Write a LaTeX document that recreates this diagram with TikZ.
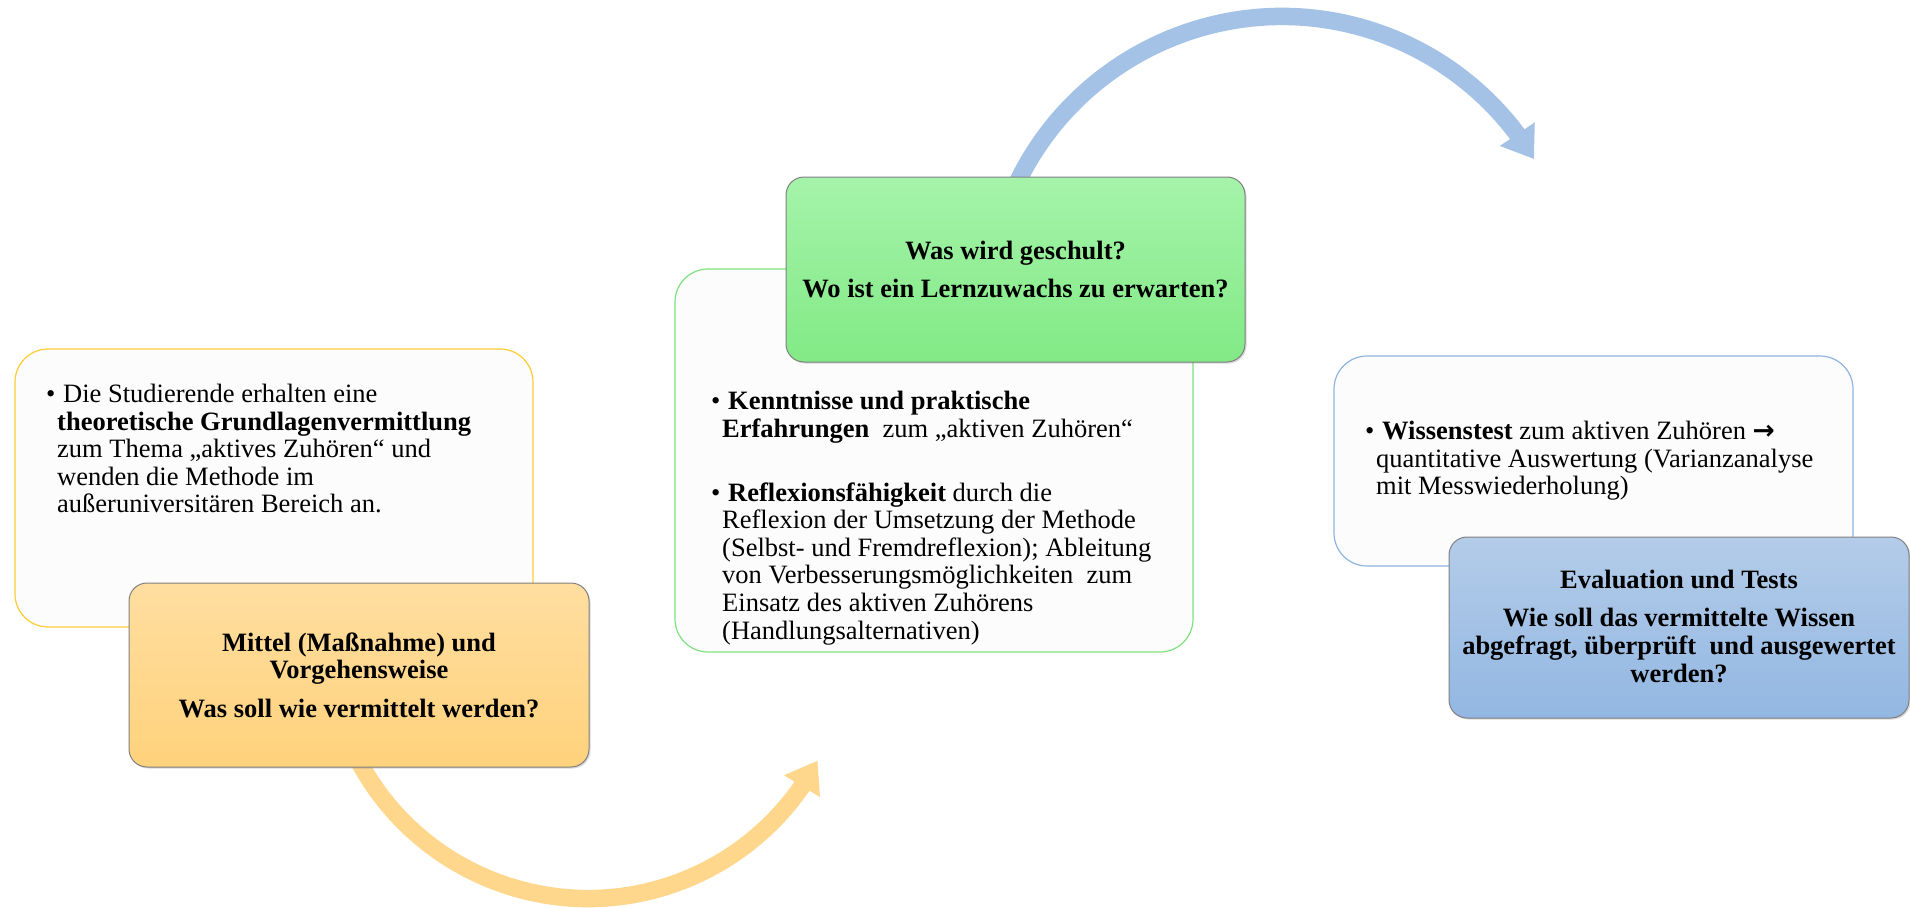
\documentclass[tikz,border=0pt]{standalone}
\usepackage{fontspec}
\setmainfont{Liberation Serif}
\newfontfamily\arrowfont{DejaVu Sans}
\usetikzlibrary{arrows.meta,bending,shadows}

\definecolor{infofill}{RGB}{252,252,252}
\definecolor{mittelline}{RGB}{255,204,51}
\definecolor{schulline}{RGB}{125,226,125}
\definecolor{evalline}{RGB}{141,180,226}
\definecolor{mitteltop}{RGB}{255,222,160}
\definecolor{mittelbot}{RGB}{255,210,124}
\definecolor{schultop}{RGB}{165,243,170}
\definecolor{schulbot}{RGB}{130,234,133}
\definecolor{evaltop}{RGB}{180,204,233}
\definecolor{evalbot}{RGB}{146,183,226}
\definecolor{ringorange}{RGB}{255,215,140}
\definecolor{ringblue}{RGB}{163,194,230}
\newcommand{\bul}{\makebox[17pt][l]{\textbullet}}
\newcommand{\ind}{\hspace*{11pt}}

\begin{document}
\begin{tikzpicture}[x=1pt,y=-1pt,
  infobox/.style={draw, line width=1.2pt, fill=infofill, rounded corners=33pt, inner sep=0pt},
  headbox/.style={draw=black!50, line width=1pt, rounded corners=18pt, inner sep=0pt,
    drop shadow={shadow xshift=1.5pt, shadow yshift=-1.5pt, opacity=.3}},
  bodytext/.style={anchor=north west, inner sep=0pt, align=left, font=\fontsize{26.5}{27.6}\selectfont},
  headtext/.style={inner sep=0pt, align=center, font=\fontsize{26.5}{27.6}\selectfont\bfseries},
  ring/.style={line width=17.5pt, -{Triangle[width=40pt,length=30pt]}}]
  \useasboundingbox (0,0) rectangle (1910,907);

  % text boxes behind
  \node[infobox, draw=mittelline, minimum width=518pt, minimum height=278pt] (mittelinfo) at (274,488) {};
  \node[infobox, draw=schulline, minimum width=518pt, minimum height=383pt] (schulinfo) at (934,460.5) {};
  \node[infobox, draw=evalline, minimum width=519pt, minimum height=210pt] (evalinfo) at (1593.5,461) {};

  % curved arrows
  \coordinate (orangemid) at (588,638.5);
  \coordinate (bluemid) at (1282,310.5);
  \draw[ring, ringorange] (orangemid) ++(155:260) arc[start angle=155, end angle=28, radius=260];
  \draw[ring, ringblue] (bluemid) ++(200:294) arc[start angle=200, end angle=329, radius=294];

  % coloured boxes
  \node[headbox, top color=mitteltop, bottom color=mittelbot, minimum width=460pt, minimum height=184pt] (mittelbox) at (359,675) {};
  \node[headbox, top color=schultop, bottom color=schulbot, minimum width=459pt, minimum height=185pt] (schulbox) at (1015.5,269.5) {};
  \node[headbox, top color=evaltop, bottom color=evalbot, minimum width=460pt, minimum height=181pt] (evalbox) at (1679,627.5) {};

  \node[headtext] (mitteltext) at (mittelbox.center) {Mittel (Maßnahme) und\\Vorgehensweise\\[11pt]Was soll wie vermittelt werden?};
  \node[headtext] (schultext) at (schulbox.center) {Was wird geschult?\\[10.4pt]Wo ist ein Lernzuwachs zu erwarten?};
  \node[headtext] (evaltext) at (1679,626.5) {Evaluation und Tests\\[10.4pt]Wie soll das vermittelte Wissen\\abgefragt, überprüft\ \ und ausgewertet\\werden?};

  \node[bodytext] (mittelitems) at (46,384) {\bul Die Studierende erhalten eine\\
    \ind\textbf{theoretische Grundlagenvermittlung}\\
    \ind zum Thema „aktives Zuhören“ und\\
    \ind wenden die Methode im\\
    \ind außeruniversitären Bereich an.};
  \node[bodytext] (schulitems) at (711,391) {\bul\textbf{Kenntnisse und praktische}\\
    \ind\textbf{Erfahrungen}\ \ zum „aktiven Zuhören“\\[36.4pt]
    \bul\textbf{Reflexionsfähigkeit} durch die\\
    \ind Reflexion der Umsetzung der Methode\\
    \ind (Selbst- und Fremdreflexion); Ableitung\\
    \ind von Verbesserungsmöglichkeiten\ \ zum\\
    \ind Einsatz des aktiven Zuhörens\\
    \ind (Handlungsalternativen)};
  \node[bodytext] (evalitems) at (1365,421) {\bul\textbf{Wissenstest} zum aktiven Zuhören {\arrowfont\bfseries →}\\
    \ind quantitative Auswertung (Varianzanalyse\\
    \ind mit Messwiederholung)};
\end{tikzpicture}
\end{document}
